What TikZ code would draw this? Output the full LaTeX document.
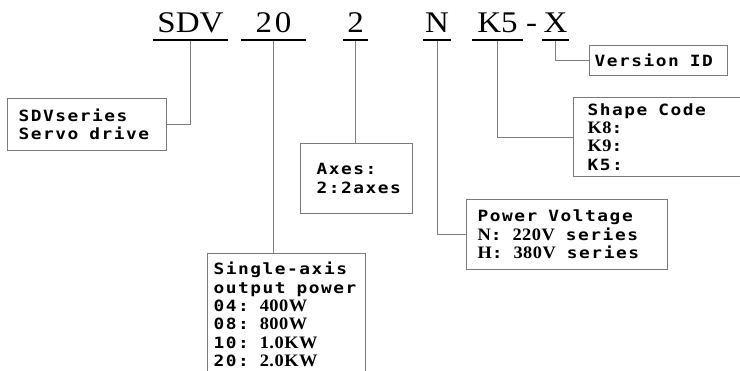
\documentclass[tikz,border=0pt]{standalone}
\usepackage{fontspec}
\newfontfamily\codefont[FakeStretch=1.1]{Liberation Serif}
\newfontfamily\lblfont[FakeStretch=1.15,LetterSpace=10]{DejaVu Sans Mono}
\newfontfamily\serfont[FakeStretch=1.05,LetterSpace=3]{Liberation Serif}
\newcommand{\sr}[1]{{\serfont\bfseries\fontsize{17.5}{18.3}\selectfont #1}}
\newcommand{\gap}{\hspace{11pt}}
\definecolor{linegray}{HTML}{808080}
\definecolor{boxgray}{HTML}{7A7A7A}
\tikzset{
  codetxt/.style={font=\codefont\fontsize{30}{30}\selectfont, inner sep=0pt, text depth=0pt, anchor=base, minimum width=#1},
  uline/.style={line width=2.5pt, black},
  conn/.style={draw=linegray, line width=0.9pt},
  lblbox/.style={draw=boxgray, line width=1pt, anchor=north west, align=left, inner ysep=0pt,
    font=\lblfont\bfseries\fontsize{15.5}{18.3}\selectfont},
}
\begin{document}
\begin{tikzpicture}[x=1pt,y=-1pt]
\path[use as bounding box] (0,0) rectangle (740,371);
\clip (0,0) rectangle (740,371);
\fill[white] (0,0) rectangle (740,371);
% code letters
\node[codetxt=75pt] (sdv) at (190.5,33) {SDV};
\node[codetxt=65pt] (twenty) at (273.5,33) {2\hspace{3pt}0};
\node[codetxt=24pt] (two) at (355.5,33) {2};
\node[codetxt=27pt] (nn) at (437,33) {N};
\node[codetxt=51pt] (kfive) at (497.5,33) {K5};
\node[codetxt=10pt] (dash) at (531.5,33) {-};
\node[codetxt=26pt] (xx) at (555.5,33) {X};
\foreach \n in {sdv,twenty,two,nn,kfive,xx}{
  \draw[uline] ([yshift=-7pt]\n.south west) -- ([yshift=-7pt]\n.south east);
  \coordinate (\n u) at ([yshift=-8pt]\n.south);
}
% boxes
\node[lblbox, text width=137pt, inner xsep=11pt, minimum height=52pt] (sdvbox) at (7,98) {SDVseries\\Servo\gap drive};
\node[lblbox, text width=80pt, inner xsep=16pt, minimum height=70pt] (axes) at (300,143) {Axes:\\2:2axes};
\node[lblbox, text width=146pt, inner xsep=6pt, minimum height=122pt] (single) at (207,253) {Single-axis\\output\gap power\\04:\gap\sr{400W}\\08:\gap\sr{800W}\\10:\gap\sr{1.0KW}\\20:\gap\sr{2.0KW}};
\node[lblbox, text width=179pt, inner xsep=11pt, minimum height=70pt] (power) at (466,199) {Power\gap Voltage\\\sr{N}:\gap\sr{220V}\gap series\\\sr{H}:\gap\sr{380V}\gap series};
\node[lblbox, text width=145pt, inner xsep=14pt, minimum height=79pt] (shape) at (573,97) {Shape\gap Code\\\sr{K8}:\\\sr{K9}:\\K5:};
\node[lblbox, text width=128pt, inner xsep=5pt, minimum height=30pt] (version) at (589,45) {Version\gap ID};
% connectors
\draw[conn] (sdvu) |- (sdvbox.east);
\draw[conn] (twentyu) -- (twentyu |- single.north);
\draw[conn] (twou) -- (twou |- axes.north);
\draw[conn] (nnu) |- (power.west);
\draw[conn] (kfiveu) |- (shape.west);
\draw[conn] (xxu) |- (version.west);
\end{tikzpicture}
\end{document}
